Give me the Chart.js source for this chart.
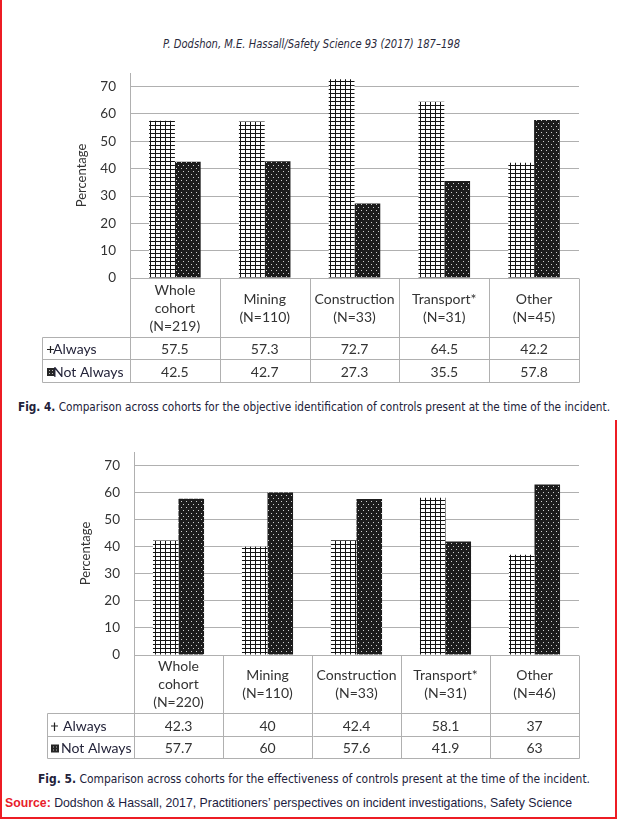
<!DOCTYPE html>
<html>
<head>
<meta charset="utf-8">
<script src="https://cdn.jsdelivr.net/npm/chart.js@4.4.1/dist/chart.umd.min.js"></script>
<style>
  body { margin: 0; width: 617px; height: 819px; background: #fff; position: relative; overflow: hidden; font-family: Lato, "Open Sans", sans-serif; }
  .fig { position: absolute; left: 0; }
  .txt { position: absolute; white-space: nowrap; transform-origin: left center; display: inline-block; }
  .hdr { font-style: italic; font-size: 12px; line-height: 14px; color: #2a2a3c; font-family: "Liberation Sans Narrow", "DejaVu Sans Condensed", Lato, sans-serif; }
  .cap { font-size: 12px; line-height: 14px; color: #22223a; font-family: "Liberation Sans Narrow", "DejaVu Sans Condensed", Lato, sans-serif; }
  .src { font-size: 13px; line-height: 16px; color: #1c1c40; font-family: "Liberation Sans", Arial, sans-serif; }
  .src b { color: #e8202a; }
  .red { position: absolute; background: #ed1c24; }
</style>
</head>
<body>

<div class="txt hdr" data-w="297" style="left:163px; top:37px">P. Dodshon, M.E. Hassall/Safety Science 93 (2017) 187–198</div>

<div class="fig" style="top:65px"><canvas id="fig4" width="617" height="320"></canvas></div>
<div class="txt cap" data-w="592" style="left:18px; top:400px"><b>Fig. 4.</b> Comparison across cohorts for the objective identification of controls present at the time of the incident.</div>

<div class="fig" style="top:440px"><canvas id="fig5" width="617" height="325"></canvas></div>
<div class="txt cap" data-w="552" style="left:38px; top:772px"><b>Fig. 5.</b> Comparison across cohorts for the effectiveness of controls present at the time of the incident.</div>

<div class="txt src" data-w="567" style="left:5px; top:795px"><b>Source:</b> Dodshon &amp; Hassall, 2017, Practitioners’ perspectives on incident investigations, Safety Science</div>

<div class="red" style="left:0; top:0; width:2px; height:819px"></div>
<div class="red" style="left:0; top:817px; width:617px; height:2px"></div>
<div class="red" style="left:615px; top:420px; width:2px; height:399px"></div>

<script>
/* ── data ── */
const SERIES = ['Always', 'Not Always'];
const Y_TICKS = [0, 10, 20, 30, 40, 50, 60, 70];

const CATS_4   = [['Whole', 'cohort', '(N=219)'], ['Mining', '(N=110)'], ['Construction', '(N=33)'], ['Transport*', '(N=31)'], ['Other', '(N=45)']];
const ALWAYS_4 = [57.5, 57.3, 72.7, 64.5, 42.2];
const NOT_4    = [42.5, 42.7, 27.3, 35.5, 57.8];

const CATS_5   = [['Whole', 'cohort', '(N=220)'], ['Mining', '(N=110)'], ['Construction', '(N=33)'], ['Transport*', '(N=31)'], ['Other', '(N=46)']];
const ALWAYS_5 = [42.3, 40, 42.4, 58.1, 37];
const NOT_5    = [57.7, 60, 57.6, 41.9, 63];

const GRID = '#b0b0b0';
const INK  = '#333333';
const FONT = 'Lato, "Open Sans", sans-serif';

/* ── fill patterns ── */
function gridPattern() {
  const c = document.createElement('canvas');
  c.width = 5; c.height = 4;
  const g = c.getContext('2d');
  g.fillStyle = '#fff'; g.fillRect(0, 0, 5, 4);
  g.fillStyle = '#151515';
  g.fillRect(0, 0, 5, 1);
  g.fillRect(0, 0, 1, 4);
  return g.createPattern(c, 'repeat');
}
function dotPattern() {
  const c = document.createElement('canvas');
  c.width = 5; c.height = 6;
  const g = c.getContext('2d');
  g.fillStyle = '#1c1c1c'; g.fillRect(0, 0, 5, 6);
  g.fillStyle = '#cfcfcf';
  g.fillRect(1, 1, 1, 1);
  g.fillRect(3, 4, 1, 1);
  return g.createPattern(c, 'repeat');
}

/* ── data table under the plot, drawn from the x scale ── */
const tablePlugin = {
  id: 'dataTable',
  afterDraw(chart, args, o) {
    const ctx = chart.ctx, a = chart.chartArea, xs = chart.scales.x;
    const n = chart.data.labels.length;
    const step = (a.right - a.left) / n;
    const y0 = Math.round(a.bottom) + 0.5;
    const y1 = y0 + o.rows[0], y2 = y1 + o.rows[1], y3 = y2 + o.rows[2];
    const L = o.left + 0.5, R = Math.round(a.right) + 0.5;

    ctx.save();
    ctx.strokeStyle = GRID; ctx.lineWidth = 1;
    ctx.beginPath();
    for (let k = 0; k <= n; k++) {
      const x = Math.round(a.left + k * step) + 0.5;
      ctx.moveTo(x, y0); ctx.lineTo(x, y3);
    }
    ctx.moveTo(L, y1); ctx.lineTo(L, y3);
    [y1, y2, y3].forEach(y => { ctx.moveTo(L, y); ctx.lineTo(R, y); });
    ctx.stroke();

    ctx.fillStyle = INK;
    ctx.font = '14px ' + FONT;
    ctx.textAlign = 'center'; ctx.textBaseline = 'middle';
    const hmid = (y0 + y1) / 2, lh = 18;
    chart.data.labels.forEach((lines, i) => {
      const cx = xs.getPixelForValue(i);
      lines.forEach((t, j) => ctx.fillText(t, cx, hmid + (j - (lines.length - 1) / 2) * lh));
    });

    const rowMid = [(y1 + y2) / 2, (y2 + y3) / 2];
    chart.data.datasets.forEach((ds, r) => {
      ds.data.forEach((v, i) => ctx.fillText(String(v), xs.getPixelForValue(i), rowMid[r] + 1));
    });

    // row labels with small legend keys
    ctx.textAlign = 'left';
    const kx = o.left + o.keyX;
    SERIES.forEach((s, r) => {
      const ym = rowMid[r] + 1;
      if (r === 0) {
        ctx.strokeStyle = '#222'; ctx.lineWidth = 1.2;
        ctx.beginPath();
        ctx.moveTo(kx, ym); ctx.lineTo(kx + 7, ym);
        ctx.moveTo(kx + 3.5, ym - 3.5); ctx.lineTo(kx + 3.5, ym + (o.tall ? 5 : 3.5));
        ctx.stroke();
      } else {
        ctx.fillStyle = '#262626';
        ctx.fillRect(kx, ym - 4, 8, 8);
        ctx.fillStyle = '#bbb';
        ctx.fillRect(kx + 2, ym - 2, 1, 1); ctx.fillRect(kx + 5, ym - 2, 1, 1);
        ctx.fillRect(kx + 2, ym + 1, 1, 1); ctx.fillRect(kx + 5, ym + 1, 1, 1);
      }
      ctx.fillStyle = '#24243a';
      ctx.fillText(s, o.left + o.textX[r], ym);
    });
    ctx.restore();
  }
};

function makeChart(id, cats, always, notAlways, geo) {
  new Chart(document.getElementById(id), {
    type: 'bar',
    data: {
      labels: cats,
      datasets: [
        { label: SERIES[0], data: always,    backgroundColor: gridPattern(), borderWidth: 0 },
        { label: SERIES[1], data: notAlways, backgroundColor: dotPattern(),  borderWidth: 0 }
      ]
    },
    options: {
      responsive: false,
      animation: false,
      categoryPercentage: 0.574,
      barPercentage: 1,
      layout: { padding: { left: geo.padLeft, right: 38, top: geo.padTop, bottom: geo.padBottom } },
      plugins: {
        legend: { display: false },
        tooltip: { enabled: false },
        dataTable: { left: geo.tableLeft, rows: geo.rows, keyX: geo.keyX, textX: geo.textX, tall: geo.tall }
      },
      scales: {
        x: { display: false },
        y: {
          min: 0, max: 75,
          afterFit: s => { s.width = 60; s.paddingTop = 0; s.paddingBottom = 0; },
          afterBuildTicks: s => { s.ticks = Y_TICKS.map(v => ({ value: v })); },
          grid: { color: GRID, lineWidth: 1, drawTicks: false },
          border: { display: true, color: GRID, width: 1 },
          ticks: { padding: 14, color: INK, font: { family: FONT, size: 13.5 } },
          title: { display: true, text: 'Percentage', color: INK, font: { family: FONT, size: 13 }, padding: { top: 4, bottom: 4 } }
        }
      }
    },
    plugins: [tablePlugin]
  });
}

makeChart('fig4', CATS_4, ALWAYS_4, NOT_4, {
  padLeft: 70, padTop: 8, padBottom: 107, tableLeft: 42, rows: [59, 22, 23], keyX: 5, textX: [11, 11], tall: false
});
makeChart('fig5', CATS_5, ALWAYS_5, NOT_5, {
  padLeft: 74, padTop: 12, padBottom: 110, tableLeft: 47, rows: [58, 23, 22], keyX: 4, textX: [16, 14], tall: true
});

/* ── squeeze captions to the measured widths ── */
document.querySelectorAll('.txt').forEach(el => {
  const w = el.getBoundingClientRect().width;
  el.style.transform = 'scaleX(' + (Number(el.dataset.w) / w) + ')';
});
</script>
</body>
</html>
